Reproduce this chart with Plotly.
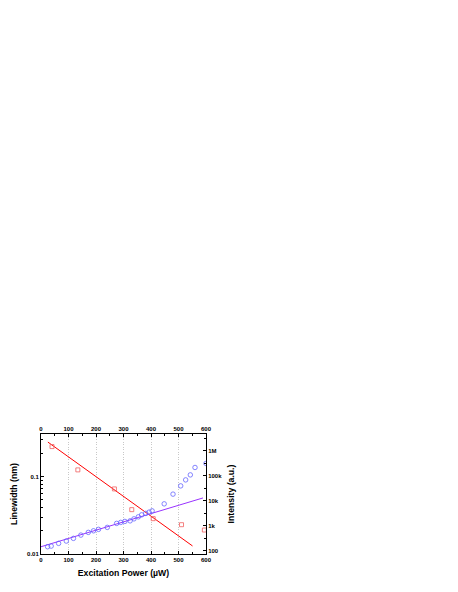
import plotly.graph_objects as go

# linewidth (left axis, nm)
lw_power = [40, 134, 267, 330, 408, 511, 594]
lw_nm = [0.244, 0.122, 0.0693, 0.0374, 0.0286, 0.0239, 0.0204]

# intensity (right axis, a.u.)
int_power = [24, 37, 64, 92, 118, 145, 172, 191, 209, 241, 275, 290, 305, 324, 338,
             354, 366, 381, 393, 404, 448, 480, 508, 526, 543, 560, 600]
int_au = [145, 154, 198, 245, 314, 425, 545, 630, 720, 865, 1250, 1370, 1500, 1580, 1900,
          2290, 2750, 3150, 3530, 3980, 7590, 18600, 39800, 69200, 110000, 218000, 316000]

# fit lines
lw_fit_x = [25, 551]
lw_fit_y = [0.279, 0.0127]
int_fit_x = [0, 589]
int_fit_y = [145, 13100]

int_tickvals = [100, 1000, 10000, 100000, 1000000]
int_ticktext = ["100", "1k", "10k", "100k", "1M"]

FONT = "Liberation Sans"
tickfont = dict(family=FONT, size=6, color="black", weight="bold")
titlefont = dict(family=FONT, size=8.7, color="black", weight="bold")

fig = go.Figure()
fig.add_trace(go.Scatter(x=lw_fit_x, y=lw_fit_y, mode="lines",
                         line=dict(color="#ff0000", width=1), yaxis="y"))
fig.add_trace(go.Scatter(x=lw_power, y=lw_nm, mode="markers", yaxis="y",
                         marker=dict(symbol="square-open", size=4, color="#f06060",
                                     line=dict(width=0.8))))
fig.add_trace(go.Scatter(x=int_fit_x, y=int_fit_y, mode="lines",
                         line=dict(color="#9933ff", width=1), yaxis="y2"))
fig.add_trace(go.Scatter(x=int_power, y=int_au, mode="markers", yaxis="y2",
                         marker=dict(symbol="circle-open", size=4.5, color="#6666ff",
                                     line=dict(width=0.8))))
# dummy trace so the top axis is drawn
fig.add_trace(go.Scatter(x=[None], y=[None], xaxis="x2", yaxis="y", showlegend=False))

axis_common = dict(showline=True, linecolor="black", linewidth=1, ticks="inside",
                   ticklen=3, tickcolor="black", tickfont=tickfont, zeroline=False,
                   automargin=False)

fig.update_layout(
    width=458, height=592,
    margin=dict(l=33, r=260, t=426, b=46),
    paper_bgcolor="white", plot_bgcolor="white",
    showlegend=False,
    xaxis=dict(range=[0, 600], dtick=100, showgrid=True, gridcolor="#c8c8c8",
               griddash="1px,1.5px", gridwidth=0.6,
               title=dict(text="Excitation Power (µW)", font=titlefont, standoff=7),
               minor=dict(ticks="inside", ticklen=2, dtick=50, tickcolor="black"),
               **axis_common),
    xaxis2=dict(range=[0, 600], dtick=100, overlaying="x", side="top", showgrid=False,
                minor=dict(ticks="inside", ticklen=2, dtick=50, tickcolor="black"),
                **axis_common),
    yaxis=dict(type="log", range=[-2, -0.45], showgrid=False,
               tickvals=[0.01, 0.1], ticktext=["0.01", "0.1"],
               title=dict(text="Linewidth (nm)", font=titlefont, standoff=8),
               minor=dict(ticks="inside", ticklen=2, tickcolor="black",
                          tickvals=[0.02, 0.03, 0.04, 0.05, 0.06, 0.07, 0.08, 0.09,
                                    0.2, 0.3]),
               **axis_common),
    yaxis2=dict(type="log", range=[1.87, 6.68], overlaying="y", side="right",
                showgrid=False, tickvals=int_tickvals, ticktext=int_ticktext,
                title=dict(text="Intensity (a.u.)", font=titlefont, standoff=6),
                minor=dict(ticks="inside", ticklen=2, tickcolor="black",
                           tickvals=[316, 3160, 31600, 316000, 3160000]),
                **axis_common),
)

fig.write_html("out.html")
